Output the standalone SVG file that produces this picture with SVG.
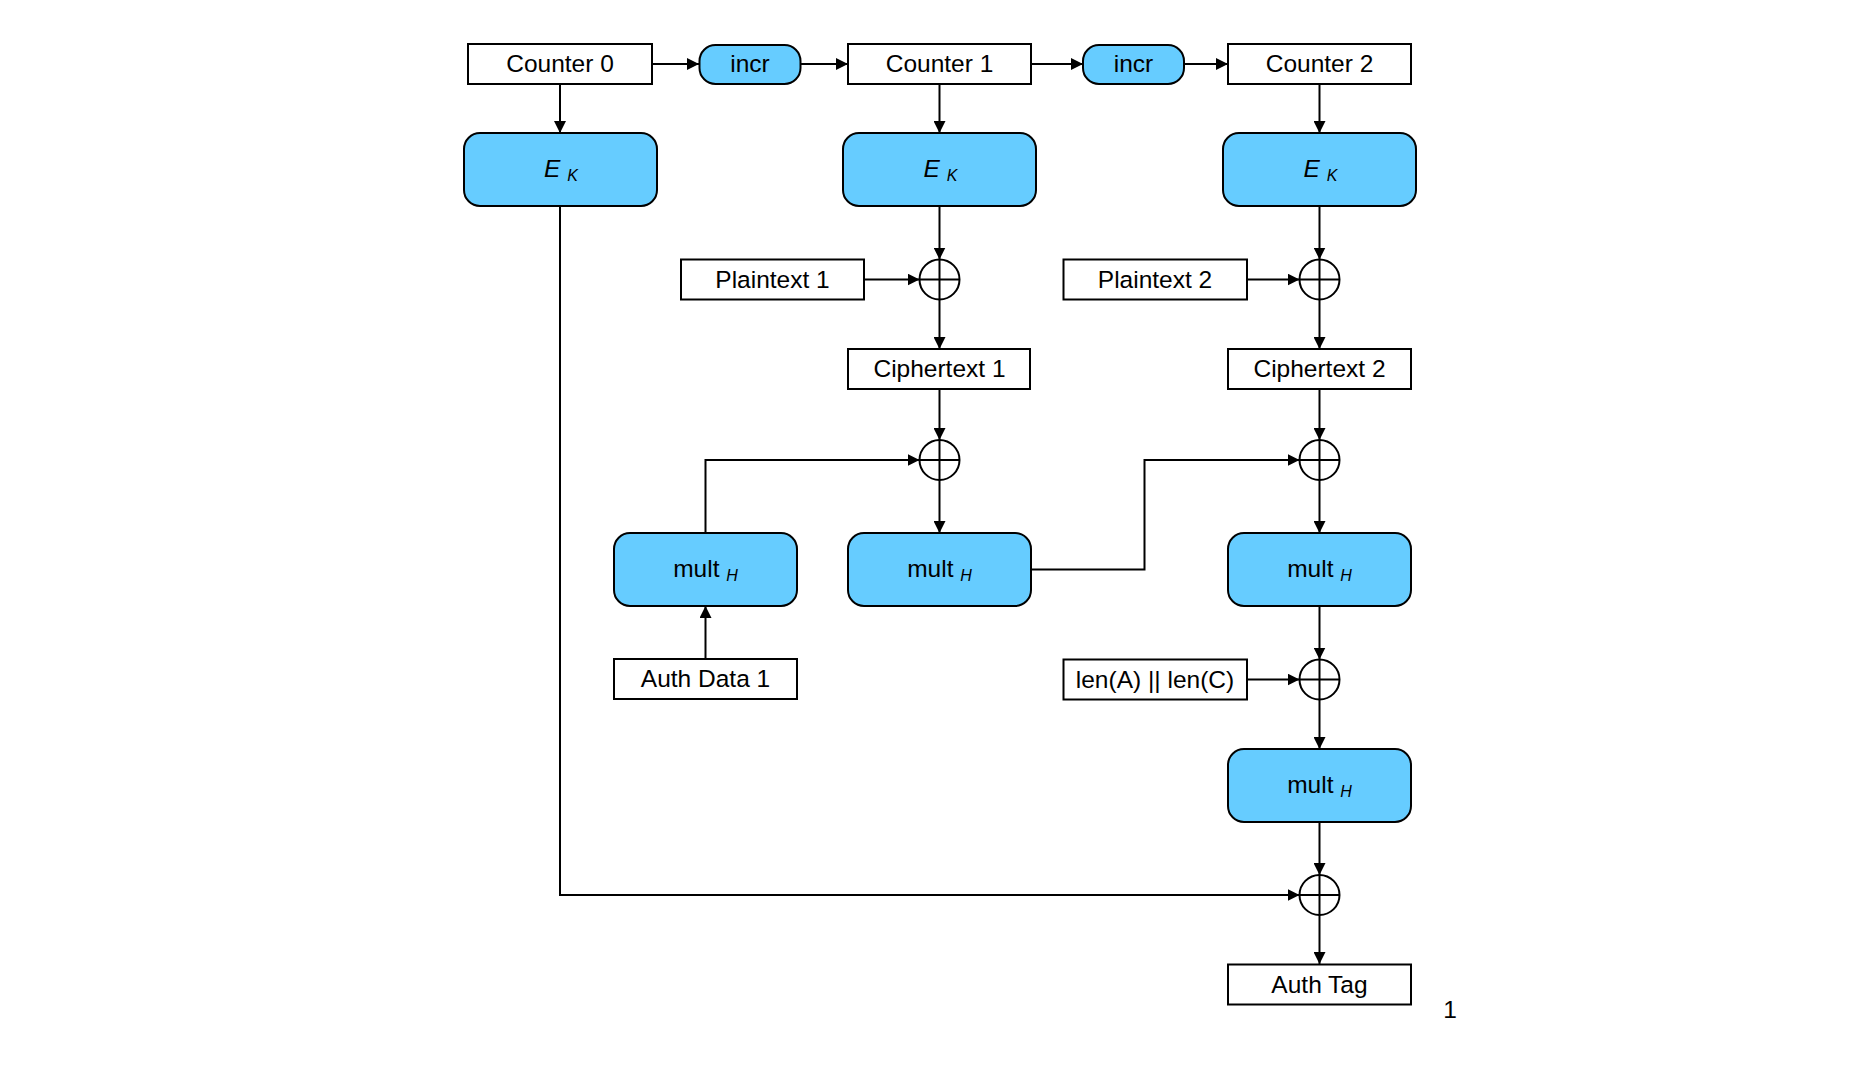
<svg xmlns="http://www.w3.org/2000/svg" width="1850" height="1083" viewBox="0 0 1850 1083">
<style>
.box{fill:#ffffff;stroke:#000000;stroke-width:2}
.blue{fill:#66CCFF;stroke:#000000;stroke-width:2}
.xor{fill:none;stroke:#000000;stroke-width:2}
.wire{fill:none;stroke:#000000;stroke-width:2}
.t{font-family:"Liberation Sans",Arial,sans-serif;font-size:24.5px;fill:#000000;text-anchor:middle}
.it{font-style:italic}
.sub{font-size:16px}
</style>
<defs>
<marker id="arr" markerUnits="userSpaceOnUse" markerWidth="12" markerHeight="12" refX="12" refY="6" orient="auto">
<path d="M0,0 L12,6 L0,12 z" fill="#000000"/>
</marker>
</defs>
<rect width="1850" height="1083" fill="#ffffff"/>
<g id="connectors">
<path class="wire" d="M652,64 H699" marker-end="url(#arr)"/>
<path class="wire" d="M801,64 H848" marker-end="url(#arr)"/>
<path class="wire" d="M1031,64 H1083" marker-end="url(#arr)"/>
<path class="wire" d="M1184,64 H1228" marker-end="url(#arr)"/>
<path class="wire" d="M560,84 V133" marker-end="url(#arr)"/>
<path class="wire" d="M939.5,84 V133" marker-end="url(#arr)"/>
<path class="wire" d="M1319.5,84 V133" marker-end="url(#arr)"/>
<path class="wire" d="M939.5,206 V259.5" marker-end="url(#arr)"/>
<path class="wire" d="M1319.5,206 V259.5" marker-end="url(#arr)"/>
<path class="wire" d="M864,279.5 H919.5" marker-end="url(#arr)"/>
<path class="wire" d="M1247,279.5 H1299.5" marker-end="url(#arr)"/>
<path class="wire" d="M939.5,299.5 V349" marker-end="url(#arr)"/>
<path class="wire" d="M1319.5,299.5 V349" marker-end="url(#arr)"/>
<path class="wire" d="M939.5,389 V440" marker-end="url(#arr)"/>
<path class="wire" d="M1319.5,389 V440" marker-end="url(#arr)"/>
<path class="wire" d="M705.5,533 V460 H919.5" marker-end="url(#arr)"/>
<path class="wire" d="M939.5,480 V533" marker-end="url(#arr)"/>
<path class="wire" d="M1031,569.5 H1144.5 V460 H1299.5" marker-end="url(#arr)"/>
<path class="wire" d="M1319.5,480 V533" marker-end="url(#arr)"/>
<path class="wire" d="M705.5,659 V606" marker-end="url(#arr)"/>
<path class="wire" d="M1319.5,606 V659.5" marker-end="url(#arr)"/>
<path class="wire" d="M1247,679.5 H1299.5" marker-end="url(#arr)"/>
<path class="wire" d="M1319.5,699.5 V749" marker-end="url(#arr)"/>
<path class="wire" d="M1319.5,822 V875" marker-end="url(#arr)"/>
<path class="wire" d="M560,206 V895 H1299.5" marker-end="url(#arr)"/>
<path class="wire" d="M1319.5,915 V964" marker-end="url(#arr)"/>
</g>
<g id="counter0"><rect class="box" x="468" y="44" width="184" height="40"/><text class="t" x="560" y="72">Counter 0</text></g>
<g id="incr1"><rect class="blue" x="699.5" y="45" width="101" height="39" rx="16"/><text class="t" x="750" y="72">incr</text></g>
<g id="counter1"><rect class="box" x="848" y="44" width="183" height="40"/><text class="t" x="939.5" y="72">Counter 1</text></g>
<g id="incr2"><rect class="blue" x="1083" y="45" width="101" height="39" rx="16"/><text class="t" x="1133.5" y="72">incr</text></g>
<g id="counter2"><rect class="box" x="1228" y="44" width="183" height="40"/><text class="t" x="1319.5" y="72">Counter 2</text></g>
<g id="ek0"><rect class="blue" x="464" y="133" width="193" height="73" rx="16"/><text class="t it" x="561" y="176.5">E <tspan class="sub" dy="4">K</tspan></text></g>
<g id="ek1"><rect class="blue" x="843" y="133" width="193" height="73" rx="16"/><text class="t it" x="940.5" y="176.5">E <tspan class="sub" dy="4">K</tspan></text></g>
<g id="ek2"><rect class="blue" x="1223" y="133" width="193" height="73" rx="16"/><text class="t it" x="1320.5" y="176.5">E <tspan class="sub" dy="4">K</tspan></text></g>
<g id="plaintext1"><rect class="box" x="681" y="259.5" width="183" height="40"/><text class="t" x="772.5" y="287.5">Plaintext 1</text></g>
<g id="plaintext2"><rect class="box" x="1063.5" y="259.5" width="183.5" height="40"/><text class="t" x="1155" y="287.5">Plaintext 2</text></g>
<g id="xor1"><circle class="xor" cx="939.5" cy="279.5" r="20"/><path class="xor" d="M919.5,279.5 H959.5 M939.5,259.5 V299.5"/></g>
<g id="xor2"><circle class="xor" cx="1319.5" cy="279.5" r="20"/><path class="xor" d="M1299.5,279.5 H1339.5 M1319.5,259.5 V299.5"/></g>
<g id="ciphertext1"><rect class="box" x="848" y="349" width="182" height="40"/><text class="t" x="939.5" y="377">Ciphertext 1</text></g>
<g id="ciphertext2"><rect class="box" x="1228" y="349" width="183" height="40"/><text class="t" x="1319.5" y="377">Ciphertext 2</text></g>
<g id="xor3"><circle class="xor" cx="939.5" cy="460" r="20"/><path class="xor" d="M919.5,460 H959.5 M939.5,440 V480"/></g>
<g id="xor4"><circle class="xor" cx="1319.5" cy="460" r="20"/><path class="xor" d="M1299.5,460 H1339.5 M1319.5,440 V480"/></g>
<g id="multA"><rect class="blue" x="614" y="533" width="183" height="73" rx="16"/><text class="t" x="705.5" y="576.5">mult <tspan class="it sub" dy="4">H</tspan></text></g>
<g id="mult1"><rect class="blue" x="848" y="533" width="183" height="73" rx="16"/><text class="t" x="939.5" y="576.5">mult <tspan class="it sub" dy="4">H</tspan></text></g>
<g id="mult2"><rect class="blue" x="1228" y="533" width="183" height="73" rx="16"/><text class="t" x="1319.5" y="576.5">mult <tspan class="it sub" dy="4">H</tspan></text></g>
<g id="authdata1"><rect class="box" x="614" y="659" width="183" height="40"/><text class="t" x="705.5" y="687">Auth Data 1</text></g>
<g id="lenAC"><rect class="box" x="1063.5" y="659.5" width="183.5" height="40"/><text class="t" x="1155" y="687.5">len(A) || len(C)</text></g>
<g id="xor5"><circle class="xor" cx="1319.5" cy="679.5" r="20"/><path class="xor" d="M1299.5,679.5 H1339.5 M1319.5,659.5 V699.5"/></g>
<g id="mult3"><rect class="blue" x="1228" y="749" width="183" height="73" rx="16"/><text class="t" x="1319.5" y="792.5">mult <tspan class="it sub" dy="4">H</tspan></text></g>
<g id="xor6"><circle class="xor" cx="1319.5" cy="895" r="20"/><path class="xor" d="M1299.5,895 H1339.5 M1319.5,875 V915"/></g>
<g id="authtag"><rect class="box" x="1228" y="964.5" width="183" height="40"/><text class="t" x="1319.5" y="992.5">Auth Tag</text></g>
<g id="pagenum"><text class="t" x="1450" y="1018">1</text></g>
</svg>
